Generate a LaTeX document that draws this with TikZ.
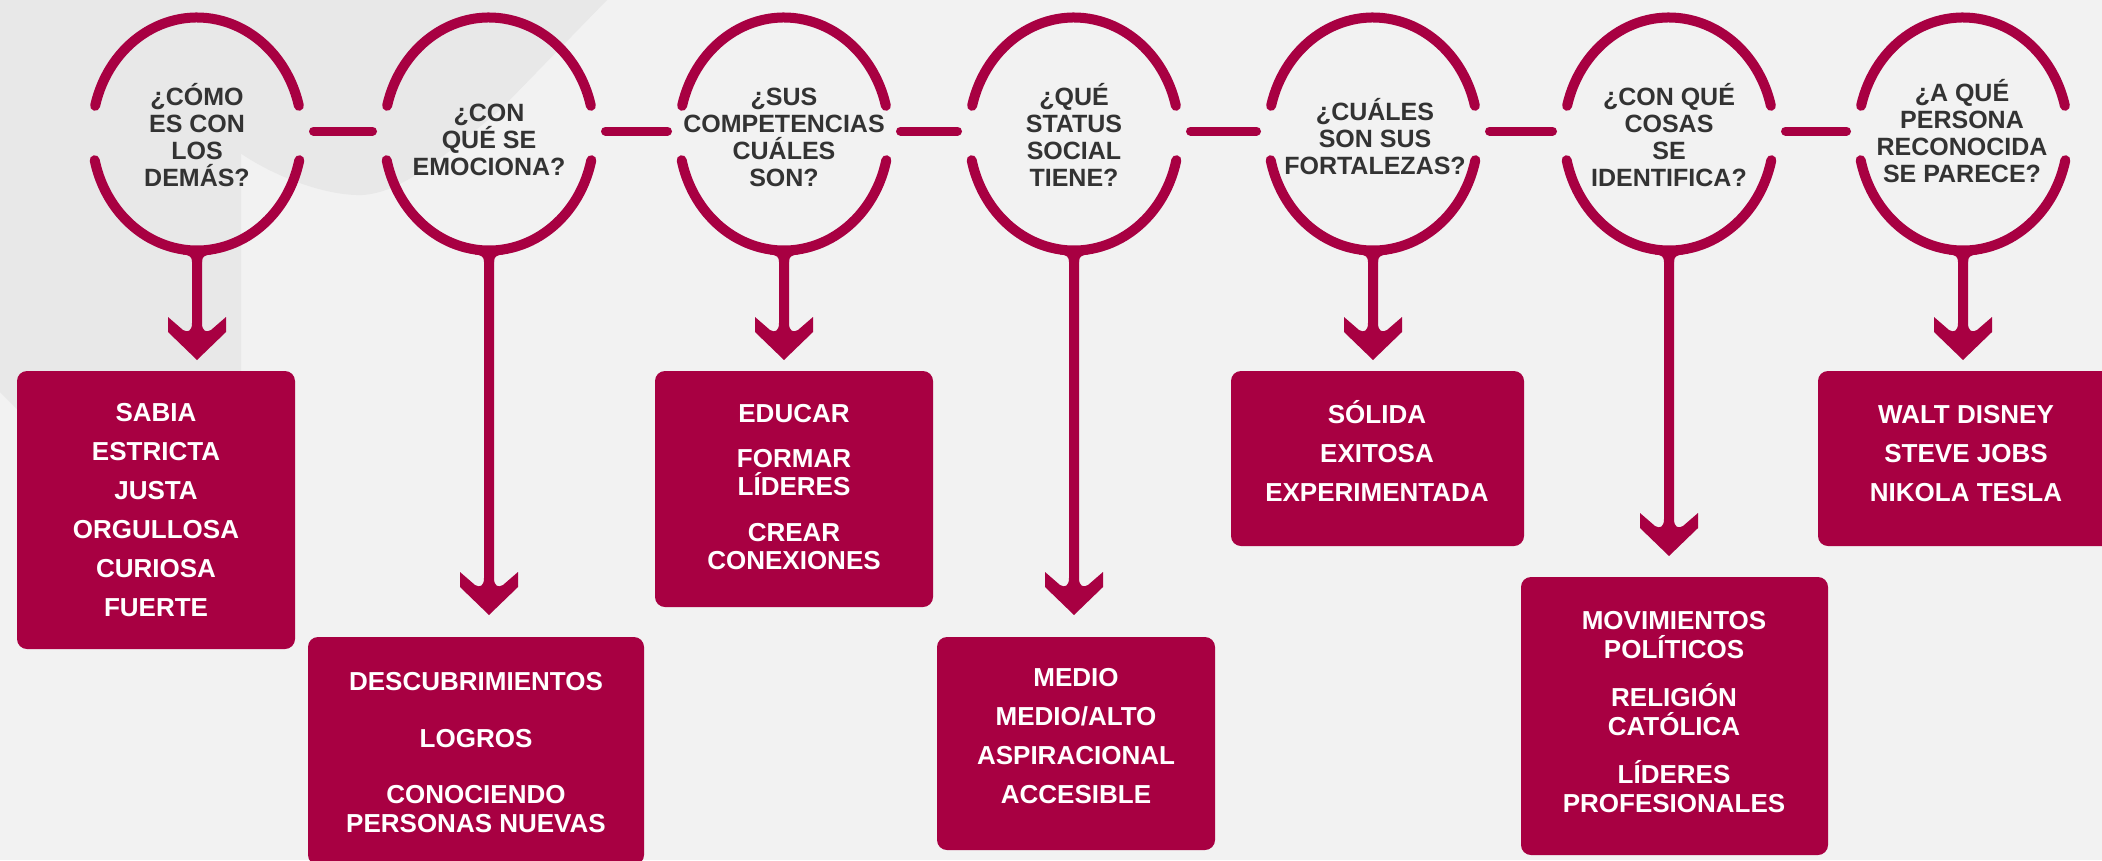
\documentclass[tikz,border=0pt]{standalone}
\usepackage{fontspec}
\setmainfont{Liberation Sans}
\usetikzlibrary{calc}
\definecolor{brand}{HTML}{A80042}
\definecolor{bgl}{HTML}{F2F2F2}
\definecolor{bgd}{HTML}{E8E8E8}
\definecolor{qgray}{HTML}{333333}
\tikzset{
  ring/.style={draw=brand, line width=10pt, line cap=round},
  link/.style={draw=brand, line width=9pt, line cap=round},
  qtext/.style={text=qgray, font=\fontsize{25}{27}\selectfont\bfseries, align=center, inner sep=0pt, anchor=base},
  abox/.style={fill=brand, rounded corners=10pt, inner sep=0pt},
  atext/.style={text=white, font=\fontsize{26}{39}\selectfont\bfseries, align=center, inner sep=0pt, anchor=base},
  stemarrow/.pic={
    \fill[brand] (-5,114) -- (-5,#1+6) .. controls (-5,#1+14) and (-9,#1+16) .. (-14,#1+13)
      -- (-29,#1) -- (-29,#1+15) -- (0,#1+43) -- (29,#1+15) -- (29,#1)
      -- (14,#1+13) .. controls (9,#1+16) and (5,#1+14) .. (5,#1+6) -- (5,114) -- cycle;
    \fill[brand] (-14,118) -- (-14,120.5) .. controls (-7,121) and (-5,123) .. (-5,128)
      -- (5,128) .. controls (5,123) and (7,121) .. (14,120.5) -- (14,118) -- cycle;
  }
}
\begin{document}
\begin{tikzpicture}[x=1pt,y=-1pt]
\useasboundingbox (0,0) rectangle (2102,860);
\clip (0,0) rectangle (2102,860);
\fill[bgl] (0,0) rectangle (2102,860);
% background decoration
\fill[bgd] (0,0) -- (241,0) -- (241,633) -- (0,392) -- cycle;
\fill[bgd] (240,0) -- (240,153) .. controls (280,180) and (330,196) .. (362,195)
  .. controls (400,193) and (440,160) .. (500,110) -- (607,0) -- cycle;

% ellipse centres
\foreach \n/\x in {1/197,2/489,3/784,4/1074,5/1373,6/1669,7/1963}
  \coordinate (c\n) at (\x,134);

% rings with side gaps
\foreach \n in {1,...,7}{
  \draw[ring] ($(c\n)+(194:105 and 116.5)$) arc[start angle=194,end angle=346,x radius=105,y radius=116.5];
  \draw[ring] ($(c\n)+(13:105 and 116.5)$) arc[start angle=13,end angle=167,x radius=105,y radius=116.5];
}

% links between rings
\foreach \a/\b in {1/2,2/3,3/4,4/5,5/6,6/7}
  \draw[link] ($(c\a)+(116.5,-3)$) -- ($(c\b)+(-116.5,-3)$);

% stems with arrowheads
\pic at (c1) {stemarrow=183};
\pic at (c2) {stemarrow=438};
\pic at (c3) {stemarrow=183};
\pic at (c4) {stemarrow=438};
\pic at (c5) {stemarrow=183};
\pic at (c6) {stemarrow=379};
\pic at (c7) {stemarrow=183};

% questions (anchored at the baseline of the last line)
\node[qtext] (q1) at (197,186) {¿CÓMO\\ES CON\\LOS\\DEMÁS?};
\node[qtext] (q2) at (489,175) {¿CON\\QUÉ SE\\EMOCIONA?};
\node[qtext] (q3) at (784,186) {¿SUS\\COMPETENCIAS\\CUÁLES\\SON?};
\node[qtext] (q4) at (1074,186) {¿QUÉ\\STATUS\\SOCIAL\\TIENE?};
\node[qtext] (q5) at (1375,174) {¿CUÁLES\\SON SUS\\FORTALEZAS?};
\node[qtext] (q6) at (1669,186) {¿CON QUÉ\\COSAS\\SE\\IDENTIFICA?};
\node[qtext] (q7) at (1962,182) {¿A QUÉ\\PERSONA\\RECONOCIDA\\SE PARECE?};

% answer boxes
\node[abox, minimum width=278pt, minimum height=278pt] (b1) at (156,510) {};
\node[abox, minimum width=336pt, minimum height=228pt] (b2) at (476,751) {};
\node[abox, minimum width=278pt, minimum height=236pt] (b3) at (794,489) {};
\node[abox, minimum width=278pt, minimum height=213pt] (b4) at (1076,743.5) {};
\node[abox, minimum width=293pt, minimum height=175pt] (b5) at (1377.5,458.5) {};
\node[abox, minimum width=307pt, minimum height=278pt] (b6) at (1674.5,716) {};
\node[abox, minimum width=296pt, minimum height=175pt] (b7) at (1966,458.5) {};

% answer texts (anchored at the baseline of the last line)
\node[atext] (t1) at (156,616.3) {SABIA\\ESTRICTA\\JUSTA\\ORGULLOSA\\CURIOSA\\FUERTE};
\node[atext, font=\fontsize{26}{29}\selectfont\bfseries] (t2) at (476,832.3)
  {DESCUBRIMIENTOS\\[28pt]LOGROS\\[27pt]CONOCIENDO\\PERSONAS NUEVAS};
\node[atext, font=\fontsize{26}{28}\selectfont\bfseries] (t3) at (794,569.3)
  {EDUCAR\\[17pt]FORMAR\\LÍDERES\\[18pt]CREAR\\CONEXIONES};
\node[atext] (t4) at (1076,803.3) {MEDIO\\MEDIO/ALTO\\ASPIRACIONAL\\ACCESIBLE};
\node[atext] (t5) at (1377,501.3) {SÓLIDA\\EXITOSA\\EXPERIMENTADA};
\node[atext, font=\fontsize{26}{29}\selectfont\bfseries] (t6) at (1674,812.3)
  {MOVIMIENTOS\\POLÍTICOS\\[19pt]RELIGIÓN\\CATÓLICA\\[19pt]LÍDERES\\PROFESIONALES};
\node[atext] (t7) at (1966,501.3) {WALT DISNEY\\STEVE JOBS\\NIKOLA TESLA};
\end{tikzpicture}
\end{document}
